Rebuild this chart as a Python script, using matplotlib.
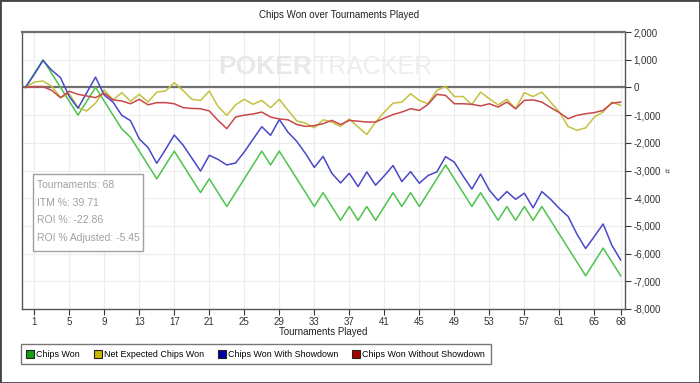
import matplotlib.pyplot as plt
from matplotlib.lines import Line2D
from matplotlib.patches import Rectangle
from matplotlib.ticker import FuncFormatter

plt.rcParams['font.family'] = ['Liberation Sans', 'DejaVu Sans']

# tournaments 0..68
tourn = list(range(69))

chips_won = [0, 500, 1000, 500, 0, -500, -1000, -500, 0, -500,
             -1000, -1500, -1800, -2300, -2800, -3300, -2800, -2300, -2800, -3300,
             -3800, -3300, -3800, -4300, -3800, -3300, -2800, -2300, -2800, -2300,
             -2800, -3300, -3800, -4300, -3800, -4300, -4800, -4300, -4800, -4300,
             -4800, -4300, -3800, -4300, -3800, -4300, -3800, -3300, -2800, -3300,
             -3800, -4300, -3800, -4300, -4800, -4300, -4800, -4300, -4800, -4300,
             -4800, -5300, -5800, -6300, -6800, -6300, -5800, -6300, -6800]

net_expected = [0, 190, 230, 40, -370, -230, -730, -850, -570, -90,
                -450, -190, -500, -250, -530, -170, -130, 170, -110, -430,
                -470, -130, -690, -1010, -630, -430, -610, -470, -730, -430,
                -830, -1210, -1290, -1460, -1170, -1250, -1410, -1140, -1430, -1700,
                -1250, -890, -570, -530, -230, -470, -590, -110, 40, -330,
                -330, -620, -170, -410, -630, -430, -770, -190, -330, -170,
                -530, -890, -1410, -1550, -1460, -1070, -890, -530, -650]

with_showdown = [0, 470, 970, 620, 350, -330, -750, -190, 370, -280,
                 -530, -1010, -1200, -1860, -2170, -2740, -2240, -1720, -2080, -2550,
                 -3020, -2450, -2600, -2800, -2730, -2330, -1870, -1420, -1730, -1160,
                 -1620, -1950, -2390, -2890, -2490, -3100, -3450, -3100, -3580, -3050,
                 -3530, -3190, -2820, -3400, -3040, -3460, -3180, -3050, -2500, -2700,
                 -3200, -3670, -3130, -3710, -4080, -3760, -4040, -3820, -4350, -3760,
                 -4040, -4370, -4660, -5290, -5820, -5380, -4930, -5700, -6230]

without_showdown = [0, 30, 30, -110, -370, -140, -250, -310, -370, -210,
                    -450, -490, -590, -430, -630, -550, -550, -590, -730, -760,
                    -770, -850, -1190, -1490, -1070, -1000, -960, -890, -1070, -1140,
                    -1170, -1340, -1410, -1380, -1310, -1190, -1340, -1190, -1220, -1250,
                    -1250, -1110, -980, -890, -770, -830, -610, -250, -290, -590,
                    -590, -610, -670, -590, -710, -530, -770, -470, -450, -530,
                    -730, -910, -1130, -1010, -950, -910, -830, -570, -530]

series_names = ['Chips Won', 'Net Expected Chips Won',
                'Chips Won With Showdown', 'Chips Won Without Showdown']
line_colors = ['#4cc44c', '#c4c040', '#4848c8', '#c84848']
box_colors = ['#10a010', '#c8b800', '#0000a8', '#a80000']

x_ticks = [1, 5, 9, 13, 17, 21, 25, 29, 33, 37, 41, 45, 49, 53, 57, 61, 65, 68]
y_ticks = list(range(-8000, 2001, 1000))

stats = ['Tournaments: 68', 'ITM %: 39.71', 'ROI %: -22.86', 'ROI % Adjusted: -5.45']

fig = plt.figure(figsize=(7, 3.83), dpi=100)
ax = fig.add_axes([22/700, 1-309/383, (625-22)/700, (309-32)/383])

for vals, col in zip([chips_won, net_expected, with_showdown, without_showdown], line_colors):
    ax.plot(tourn, vals, color=col, lw=1.1, zorder=3)

ax.axhline(0, color='#707070', lw=1.6, zorder=2)

ax.set_xlim(-0.4, 68.5)
ax.set_ylim(-8000, 2000)
ax.set_xticks(x_ticks)
ax.set_yticks(y_ticks)
ax.yaxis.tick_right()
ax.yaxis.set_major_formatter(FuncFormatter(lambda v, p: '{:,.0f}'.format(v)))
ax.tick_params(labelsize=7, length=4, width=0.8, colors='#333333', pad=1.5)
ax.tick_params(axis='y', pad=2)
ax.grid(color='#ececec', lw=0.8, zorder=0)
for side in ['left', 'right', 'bottom']:
    ax.spines[side].set_color('#555555')
    ax.spines[side].set_linewidth(1)
ax.spines['top'].set_color('#707070')
ax.spines['top'].set_linewidth(1.6)

ax.set_xlabel('Tournaments Played', fontsize=7, color='#222222', labelpad=0)
ax.yaxis.set_label_position('right')
ax.set_ylabel('#', fontsize=6, color='#333333', rotation=270, labelpad=6)

# watermark
fig.text(218/700, 1-67/383, 'POKER', fontsize=19, fontweight='bold',
         color='#e8e8e8', va='center', ha='left', zorder=1)
fig.text(314/700, 1-67/383, 'TRACKER', fontsize=18, color='#ededed',
         va='center', ha='left', zorder=1)

fig.suptitle('Chips Won over Tournaments Played', x=339/700, y=1-15/383,
             fontsize=7, color='#222222', va='center')

# stats box
fig.patches.append(Rectangle((33/700, 1-251/383), 110/700, 77/383,
                             transform=fig.transFigure, fill=True, facecolor='white',
                             edgecolor='#a0a0a0', lw=1, zorder=4))
for i, s in enumerate(stats):
    fig.text(37/700, 1-(185+17.7*i)/383, s, fontsize=7.5, color='#a0a0a0',
             va='center', ha='left', zorder=5)

handles = [Line2D([], [], marker='s', ls='none', markersize=5.5, markerfacecolor=c,
                  markeredgecolor='#222222', markeredgewidth=0.8) for c in box_colors]
leg = fig.legend(handles, series_names, loc='lower left', ncol=4,
                 bbox_to_anchor=(21/700, 1-364/383), borderaxespad=0,
                 fontsize=6.4, frameon=True, fancybox=False, edgecolor='#555555',
                 handlelength=0.8, handletextpad=0.3, columnspacing=1.6, borderpad=0.6)
leg.get_frame().set_linewidth(1)

fig.patches.append(Rectangle((0, 0), 1, 1, transform=fig.transFigure, fill=False,
                             edgecolor='#444444', lw=2))

fig.savefig('out.png', dpi=100)
